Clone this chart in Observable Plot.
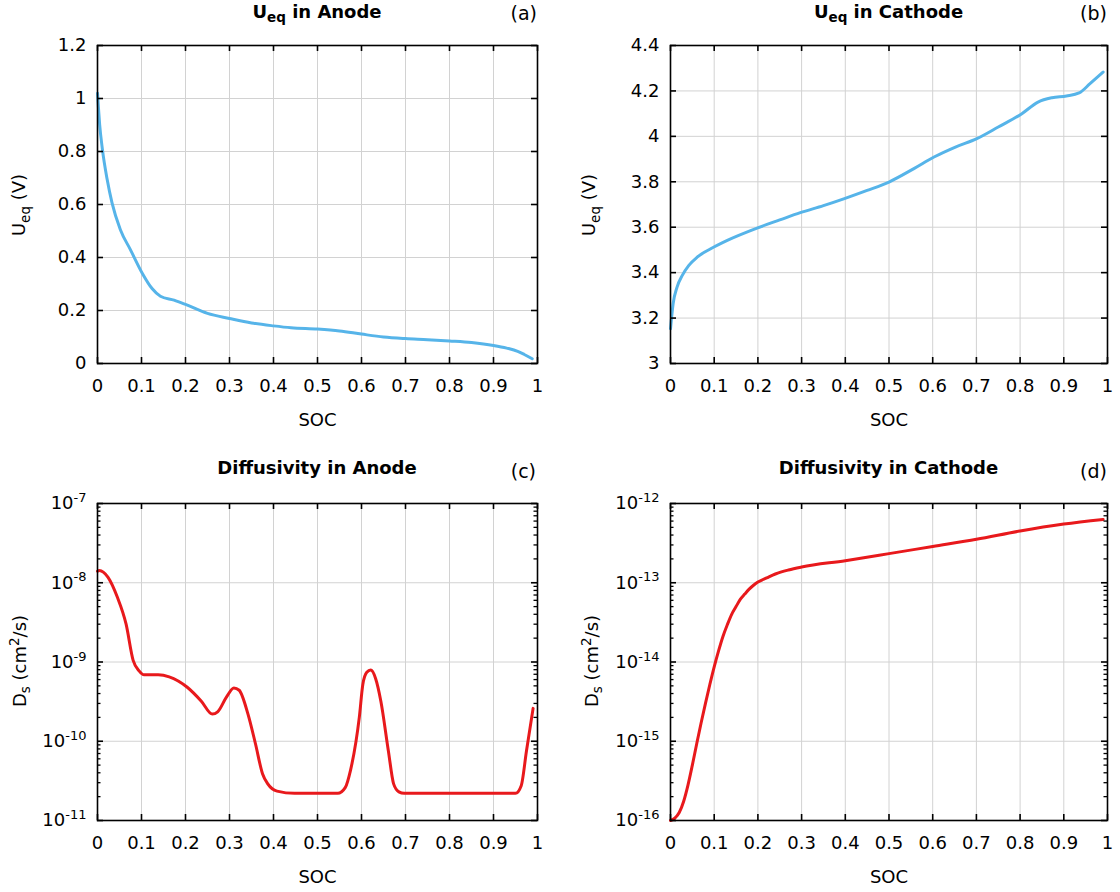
<!DOCTYPE html>
<html>
<head>
<meta charset="utf-8">
<script src="https://cdn.jsdelivr.net/npm/d3@7"></script>
<script src="https://cdn.jsdelivr.net/npm/@observablehq/plot@0.6"></script>
<style>
  html, body { margin: 0; padding: 0; background: #fff; }
  #root { position: relative; width: 1120px; height: 892px; overflow: hidden; font-family: "DejaVu Sans", Verdana, sans-serif; color: #000; }
  .panel { position: absolute; }
  .title { position: absolute; font-weight: bold; font-size: 18px; line-height: 21px; white-space: nowrap; transform: translateX(-50%); }
  .tag { position: absolute; font-size: 19px; line-height: 22px; white-space: nowrap; transform: translateX(-100%); }
  .ylab { position: absolute; font-size: 18px; line-height: 21px; white-space: nowrap; transform: translate(-50%, -50%) rotate(-90deg); }
  .sb { font-size: 0.75em; vertical-align: -0.3em; }
  .sp { font-size: 0.75em; vertical-align: 0.5em; }
</style>
</head>
<body>
<div id="root"></div>
<script>
// ---------- data ----------
const socTicks = [0, 0.1, 0.2, 0.3, 0.4, 0.5, 0.6, 0.7, 0.8, 0.9, 1];

const anodeUeqTicks = [0, 0.2, 0.4, 0.6, 0.8, 1, 1.2];
const cathodeUeqTicks = [3, 3.2, 3.4, 3.6, 3.8, 4, 4.2, 4.4];
const anodeDsTicks = [1e-11, 1e-10, 1e-9, 1e-8, 1e-7];
const cathodeDsTicks = [1e-16, 1e-15, 1e-14, 1e-13, 1e-12];

// (a) equilibrium potential, anode
const anodeUeqSoc = [0, 0.005, 0.011, 0.022, 0.033, 0.052, 0.075, 0.102, 0.124, 0.143, 0.174, 0.2, 0.25, 0.3, 0.35, 0.4, 0.44, 0.5, 0.55, 0.6, 0.65, 0.7, 0.75, 0.8, 0.85, 0.9, 0.93, 0.955, 0.97, 0.988];
const anodeUeqV   = [1.02, 0.9, 0.81, 0.694, 0.606, 0.505, 0.429, 0.34, 0.283, 0.254, 0.239, 0.223, 0.189, 0.17, 0.153, 0.142, 0.135, 0.13, 0.123, 0.111, 0.1, 0.094, 0.09, 0.085, 0.079, 0.068, 0.058, 0.046, 0.034, 0.018];

// (b) equilibrium potential, cathode
const cathodeUeqSoc = [0, 0.006, 0.015, 0.027, 0.042, 0.061, 0.092, 0.13, 0.198, 0.25, 0.297, 0.35, 0.398, 0.45, 0.5, 0.557, 0.603, 0.652, 0.701, 0.75, 0.804, 0.841, 0.873, 0.906, 0.935, 0.96, 0.99];
const cathodeUeqV   = [3.153, 3.263, 3.336, 3.388, 3.432, 3.468, 3.505, 3.542, 3.596, 3.632, 3.664, 3.695, 3.726, 3.762, 3.799, 3.858, 3.909, 3.953, 3.99, 4.041, 4.1, 4.151, 4.17, 4.178, 4.191, 4.232, 4.283];

// (c) solid diffusivity, anode (cm^2/s)
const anodeDsSoc = [0, 0.004, 0.024, 0.045, 0.065, 0.081, 0.094, 0.106, 0.138, 0.163, 0.204, 0.236, 0.261, 0.273, 0.293, 0.31, 0.322, 0.342, 0.359, 0.375, 0.387, 0.408, 0.448, 0.546, 0.563, 0.575, 0.595, 0.603, 0.612, 0.621, 0.632, 0.644, 0.661, 0.673, 0.685, 0.697, 0.95, 0.963, 0.975, 0.99];
const anodeDs    = [1.4e-8, 1.43e-8, 1.17e-8, 6.6e-9, 3.0e-9, 1.05e-9, 7.8e-10, 6.9e-10, 6.9e-10, 6.5e-10, 4.8e-10, 3.2e-10, 2.2e-10, 2.35e-10, 3.6e-10, 4.7e-10, 4.4e-10, 2.2e-10, 9.3e-11, 3.9e-11, 2.9e-11, 2.35e-11, 2.2e-11, 2.2e-11, 2.6e-11, 4.3e-11, 2.0e-10, 5.2e-10, 7.4e-10, 7.9e-10, 6.2e-10, 3.2e-10, 7.6e-11, 2.9e-11, 2.3e-11, 2.2e-11, 2.2e-11, 2.75e-11, 7.6e-11, 2.6e-10];

// (d) solid diffusivity, cathode (cm^2/s)
const cathodeDsSoc = [0, 0.01, 0.02, 0.03, 0.04, 0.05, 0.06, 0.07, 0.08, 0.09, 0.1, 0.11, 0.12, 0.13, 0.14, 0.15, 0.16, 0.17, 0.18, 0.19, 0.2, 0.22, 0.24, 0.27, 0.3, 0.4, 0.5, 0.6, 0.7, 0.8, 0.9, 0.99];
const cathodeDs    = [1.0e-16, 1.07e-16, 1.26e-16, 1.74e-16, 2.8e-16, 5.0e-16, 9.3e-16, 1.7e-15, 3.0e-15, 5.2e-15, 8.7e-15, 1.38e-14, 2.1e-14, 2.95e-14, 4.0e-14, 5.0e-14, 6.2e-14, 7.2e-14, 8.3e-14, 9.3e-14, 1.02e-13, 1.15e-13, 1.29e-13, 1.45e-13, 1.58e-13, 1.9e-13, 2.33e-13, 2.87e-13, 3.53e-13, 4.5e-13, 5.5e-13, 6.3e-13];

// ---------- drawing ----------
const BLUE = "#56b4e9", RED = "#e8191c", GRID = "#d2d2d2";
const FONT = '"DejaVu Sans", Verdana, sans-serif';
const root = document.getElementById("root");

function minorTicks(majors) {
  const out = [];
  for (let i = 0; i < majors.length - 1; i++) for (let k = 2; k <= 9; k++) out.push(k * majors[i]);
  return out;
}
const logFmt = d => "10^" + Math.round(Math.log10(d));

function panel({left, top, width, height, mL, mR, mT, mB, yType, yDomain, yTicks, yFormat, xs, ys, color, curve}) {
  const fw = width - mL - mR, fh = height - mT - mB;
  const data = xs.map((x, i) => ({x, y: ys[i]}));
  const marks = [
    Plot.gridX(socTicks, {stroke: GRID, strokeOpacity: 1, strokeWidth: 1}),
    Plot.gridY(yTicks, {stroke: GRID, strokeOpacity: 1, strokeWidth: 1}),
    Plot.line(data, {x: "x", y: "y", stroke: color, strokeWidth: 3, curve}),
    Plot.frame({stroke: "#000", strokeWidth: 1.6}),
    Plot.ruleX(socTicks, {insetTop: fh - 6, stroke: "#000", strokeWidth: 1.6}),
    Plot.ruleX(socTicks, {insetBottom: fh - 6, stroke: "#000", strokeWidth: 1.6}),
    Plot.ruleY(yTicks, {insetRight: fw - 6, stroke: "#000", strokeWidth: 1.6}),
    Plot.ruleY(yTicks, {insetLeft: fw - 6, stroke: "#000", strokeWidth: 1.6}),
    Plot.axisX({ticks: socTicks, tickSize: 0, tickPadding: 16, tickFormat: d => String(d), label: null}),
    Plot.axisY({ticks: yTicks, tickSize: 0, tickPadding: 11, tickFormat: yFormat, label: null}),
    Plot.text(["SOC"], {frameAnchor: "bottom", dy: 62, text: d => d, fontSize: 18})
  ];
  if (yType === "log") {
    const mt = minorTicks(yTicks);
    marks.push(Plot.ruleY(mt, {insetRight: fw - 3.5, stroke: "#000", strokeWidth: 1.3}));
    marks.push(Plot.ruleY(mt, {insetLeft: fw - 3.5, stroke: "#000", strokeWidth: 1.3}));
  }
  const svg = Plot.plot({
    width, height, marginLeft: mL, marginRight: mR, marginTop: mT, marginBottom: mB,
    style: {fontFamily: FONT, fontSize: "18px", color: "#000", background: "transparent", overflow: "visible"},
    x: {domain: [0, 1]},
    y: {type: yType, domain: yDomain},
    marks
  });
  // superscript exponents on log tick labels
  d3.select(svg).selectAll('g[aria-label="y-axis tick label"] text').each(function () {
    const m = this.textContent.match(/^10\^(-?\d+)$/);
    if (m) {
      this.textContent = "10";
      const ts = document.createElementNS("http://www.w3.org/2000/svg", "tspan");
      ts.setAttribute("dy", "-0.55em");
      ts.setAttribute("font-size", "13px");
      ts.textContent = m[1];
      this.appendChild(ts);
    }
  });
  const div = document.createElement("div");
  div.className = "panel";
  div.style.left = left + "px";
  div.style.top = top + "px";
  div.appendChild(svg);
  root.appendChild(div);
}

// (a)
panel({left: 0, top: 0, width: 560, height: 440, mL: 97, mR: 23, mT: 45, mB: 77,
  yType: "linear", yDomain: [0, 1.2], yTicks: anodeUeqTicks, yFormat: d => String(d),
  xs: anodeUeqSoc, ys: anodeUeqV, color: BLUE, curve: "monotone-x"});
// (b)
panel({left: 560, top: 0, width: 560, height: 440, mL: 110, mR: 13, mT: 45, mB: 77,
  yType: "linear", yDomain: [3, 4.4], yTicks: cathodeUeqTicks, yFormat: d => String(d),
  xs: cathodeUeqSoc, ys: cathodeUeqV, color: BLUE, curve: "monotone-x"});
// (c)
panel({left: 0, top: 450, width: 560, height: 442, mL: 97, mR: 23, mT: 53, mB: 72,
  yType: "log", yDomain: [1e-11, 1e-7], yTicks: anodeDsTicks, yFormat: logFmt,
  xs: anodeDsSoc, ys: anodeDs, color: RED, curve: "monotone-x"});
// (d)
panel({left: 560, top: 450, width: 560, height: 442, mL: 110, mR: 13, mT: 53, mB: 72,
  yType: "log", yDomain: [1e-16, 1e-12], yTicks: cathodeDsTicks, yFormat: logFmt,
  xs: cathodeDsSoc, ys: cathodeDs, color: RED, curve: "monotone-x"});

// titles, panel tags, y-axis labels
function addDiv(cls, html, x, y) {
  const d = document.createElement("div");
  d.className = cls;
  d.innerHTML = html;
  d.style.left = x + "px";
  d.style.top = y + "px";
  root.appendChild(d);
}
addDiv("title", 'U<span class="sb">eq</span> in Anode', 317, 0.8);
addDiv("title", 'U<span class="sb">eq</span> in Cathode', 888.5, 0.8);
addDiv("title", "Diffusivity in Anode", 317, 457.3);
addDiv("title", "Diffusivity in Cathode", 888.5, 457.3);
addDiv("tag", "(a)", 537, 1.8);
addDiv("tag", "(b)", 1107, 1.8);
addDiv("tag", "(c)", 536, 459.8);
addDiv("tag", "(d)", 1107, 459.8);
addDiv("ylab", 'U<span class="sb">eq</span> (V)', 22, 205);
addDiv("ylab", 'U<span class="sb">eq</span> (V)', 592, 205);
addDiv("ylab", 'D<span class="sb">s</span> (cm<span class="sp">2</span>/s)', 20, 661);
addDiv("ylab", 'D<span class="sb">s</span> (cm<span class="sp">2</span>/s)', 592, 661);
</script>
</body>
</html>
